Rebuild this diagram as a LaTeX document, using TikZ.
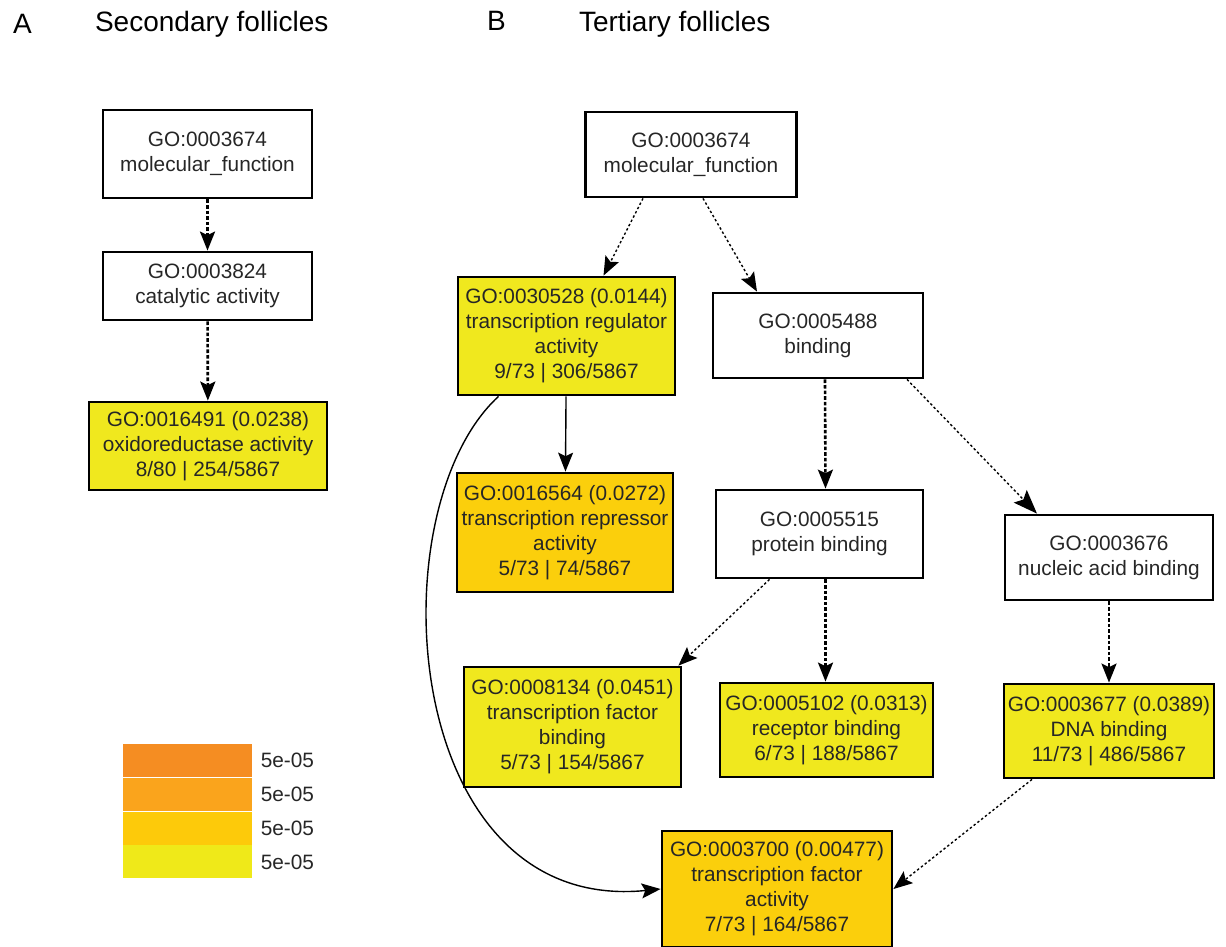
\documentclass[tikz,border=0pt]{standalone}
\usepackage{fontspec}
\setmainfont{Liberation Sans}
\usetikzlibrary{arrows.meta,positioning}
\definecolor{goyellow}{HTML}{F0E81E}
\definecolor{gogold}{HTML}{FBCF0C}
\definecolor{leg1}{HTML}{F58D22}
\definecolor{leg2}{HTML}{FAA41C}
\definecolor{leg3}{HTML}{FDCA0A}
\definecolor{leg4}{HTML}{EFE919}
\definecolor{gotext}{HTML}{262626}

\begin{document}
\begin{tikzpicture}
  [x=0.5pt,y=-0.5pt,font=\fontsize{10.4}{12.5}\selectfont]
      \tikzstyle{go_box} = [draw=black, line width=1.4pt, inner sep=0pt, align=center, text=gotext]
      \tikzstyle{edge_dot} = [draw=black, line width=0.7pt, dash pattern=on 1.2pt off 1.2pt, -{Stealth[length=9.5pt,width=7.5pt,inset=1.8pt]}]
      \tikzstyle{edge_bold} = [draw=black, line width=1.3pt, dash pattern=on 1.8pt off 1pt, -{Stealth[length=9.5pt,width=7.5pt,inset=1.8pt]}]
      \tikzstyle{edge_solid} = [draw=black, line width=0.7pt, -{Stealth[length=9.5pt,width=7.5pt,inset=1.8pt]}]
      \tikzstyle{leg_band} = [inner sep=0pt, minimum width=64.5pt, minimum height=16.5pt]
  \useasboundingbox (0,0) rectangle (1226,947);
  % titles
  \node[anchor=west, font=\fontsize{14}{16}\selectfont] (ta) at (6,24) {A};
  \node[anchor=west, font=\fontsize{14}{16}\selectfont] (tsec) at (88,24) {Secondary follicles};
  \node[anchor=west, font=\fontsize{14}{16}\selectfont] (tb) at (480,21) {B};
  \node[anchor=west, font=\fontsize{14}{16}\selectfont] (tter) at (572,24) {Tertiary follicles};
  % secondary follicles
  \node[go_box, minimum width=104.5pt, minimum height=44pt] (a0) at (207.5,154) {GO:0003674\\molecular\_function};
  \node[go_box, minimum width=104.5pt, minimum height=34pt] (a1) at (207.5,286) {GO:0003824\\catalytic activity};
  \node[go_box, fill=goyellow, minimum width=119pt, minimum height=44pt] (a2) at (208,446) {GO:0016491 (0.0238)\\oxidoreductase activity\\8/80 | 254/5867};
  \draw[edge_bold] (a0) -- (a1);
  \draw[edge_bold] (a1) -- (a2);
  % tertiary follicles
  \node[go_box, minimum width=105.5pt, minimum height=42.5pt] (b0) at (691,154.5) {GO:0003674\\molecular\_function};
  \node[go_box, fill=goyellow, minimum width=108.5pt, minimum height=59pt] (b1) at (566.5,336) {GO:0030528 (0.0144)\\transcription regulator\\activity\\9/73 | 306/5867};
  \node[go_box, minimum width=105pt, minimum height=42.5pt] (b2) at (818,335.5) {GO:0005488\\binding};
  \node[go_box, fill=gogold, minimum width=108pt, minimum height=59.5pt] (b3) at (565,532.5) {GO:0016564 (0.0272)\\transcription repressor\\activity\\5/73 | 74/5867};
  \node[go_box, minimum width=103.5pt, minimum height=44pt] (b4) at (819.5,534) {GO:0005515\\protein binding};
  \node[go_box, minimum width=104pt, minimum height=42.5pt] (b5) at (1109,557.5) {GO:0003676\\nucleic acid binding};
  \node[go_box, fill=goyellow, minimum width=108.5pt, minimum height=60pt] (b6) at (572.5,727) {GO:0008134 (0.0451)\\transcription factor\\binding\\5/73 | 154/5867};
  \node[go_box, fill=goyellow, minimum width=106.5pt, minimum height=47pt] (b7) at (826.5,730) {GO:0005102 (0.0313)\\receptor binding\\6/73 | 188/5867};
  \node[go_box, fill=goyellow, minimum width=105pt, minimum height=47pt] (b8) at (1109,731) {GO:0003677 (0.0389)\\DNA binding\\11/73 | 486/5867};
  \node[go_box, fill=gogold, minimum width=115pt, minimum height=58pt] (b9) at (777,889) {GO:0003700 (0.00477)\\transcription factor\\activity\\7/73 | 164/5867};
  \draw[edge_dot] ([xshift=-24pt]b0.south) -- ([xshift=18.5pt]b1.north);
  \draw[edge_dot] ([xshift=6pt]b0.south) -- ([xshift=-30.5pt]b2.north);
  \draw[edge_solid] (b1) -- (b3);
  \draw[edge_solid] ([xshift=-34pt]b1.south) .. controls (375,510) and (400,915) .. (b9.west);
  \draw[edge_bold] ([xshift=3.5pt]b2.south) -- ([xshift=3pt]b4.north);
  \draw[edge_dot, -{Stealth[length=12pt,width=9pt,inset=2.2pt]}] ([xshift=44.5pt]b2.south) -- ([xshift=-36pt]b5.north);
  \draw[edge_dot] ([xshift=-25pt]b4.south) -- ([xshift=-2pt]b6.north east);
  \draw[edge_bold] ([xshift=3pt]b4.south) -- ([xshift=-0.5pt]b7.north);
  \draw[edge_bold] (b5) -- (b8);
  \draw[edge_dot] ([xshift=-38.5pt]b8.south) -- (b9.east);
  % legend
  \node[leg_band, fill=leg1] (l1) at (187.5,760.5) {};
  \node[leg_band, fill=leg2, below=0pt of l1] (l2) {};
  \node[leg_band, fill=leg3, below=0pt of l2] (l3) {};
  \node[leg_band, fill=leg4, below=0pt of l3] (l4) {};
  \node[right=4pt of l1, inner sep=0pt, text=gotext] (t1) {5e-05};
  \node[right=4pt of l2, inner sep=0pt, text=gotext] (t2) {5e-05};
  \node[right=4pt of l3, inner sep=0pt, text=gotext] (t3) {5e-05};
  \node[right=4pt of l4, inner sep=0pt, text=gotext] (t4) {5e-05};
\end{tikzpicture}
\end{document}
